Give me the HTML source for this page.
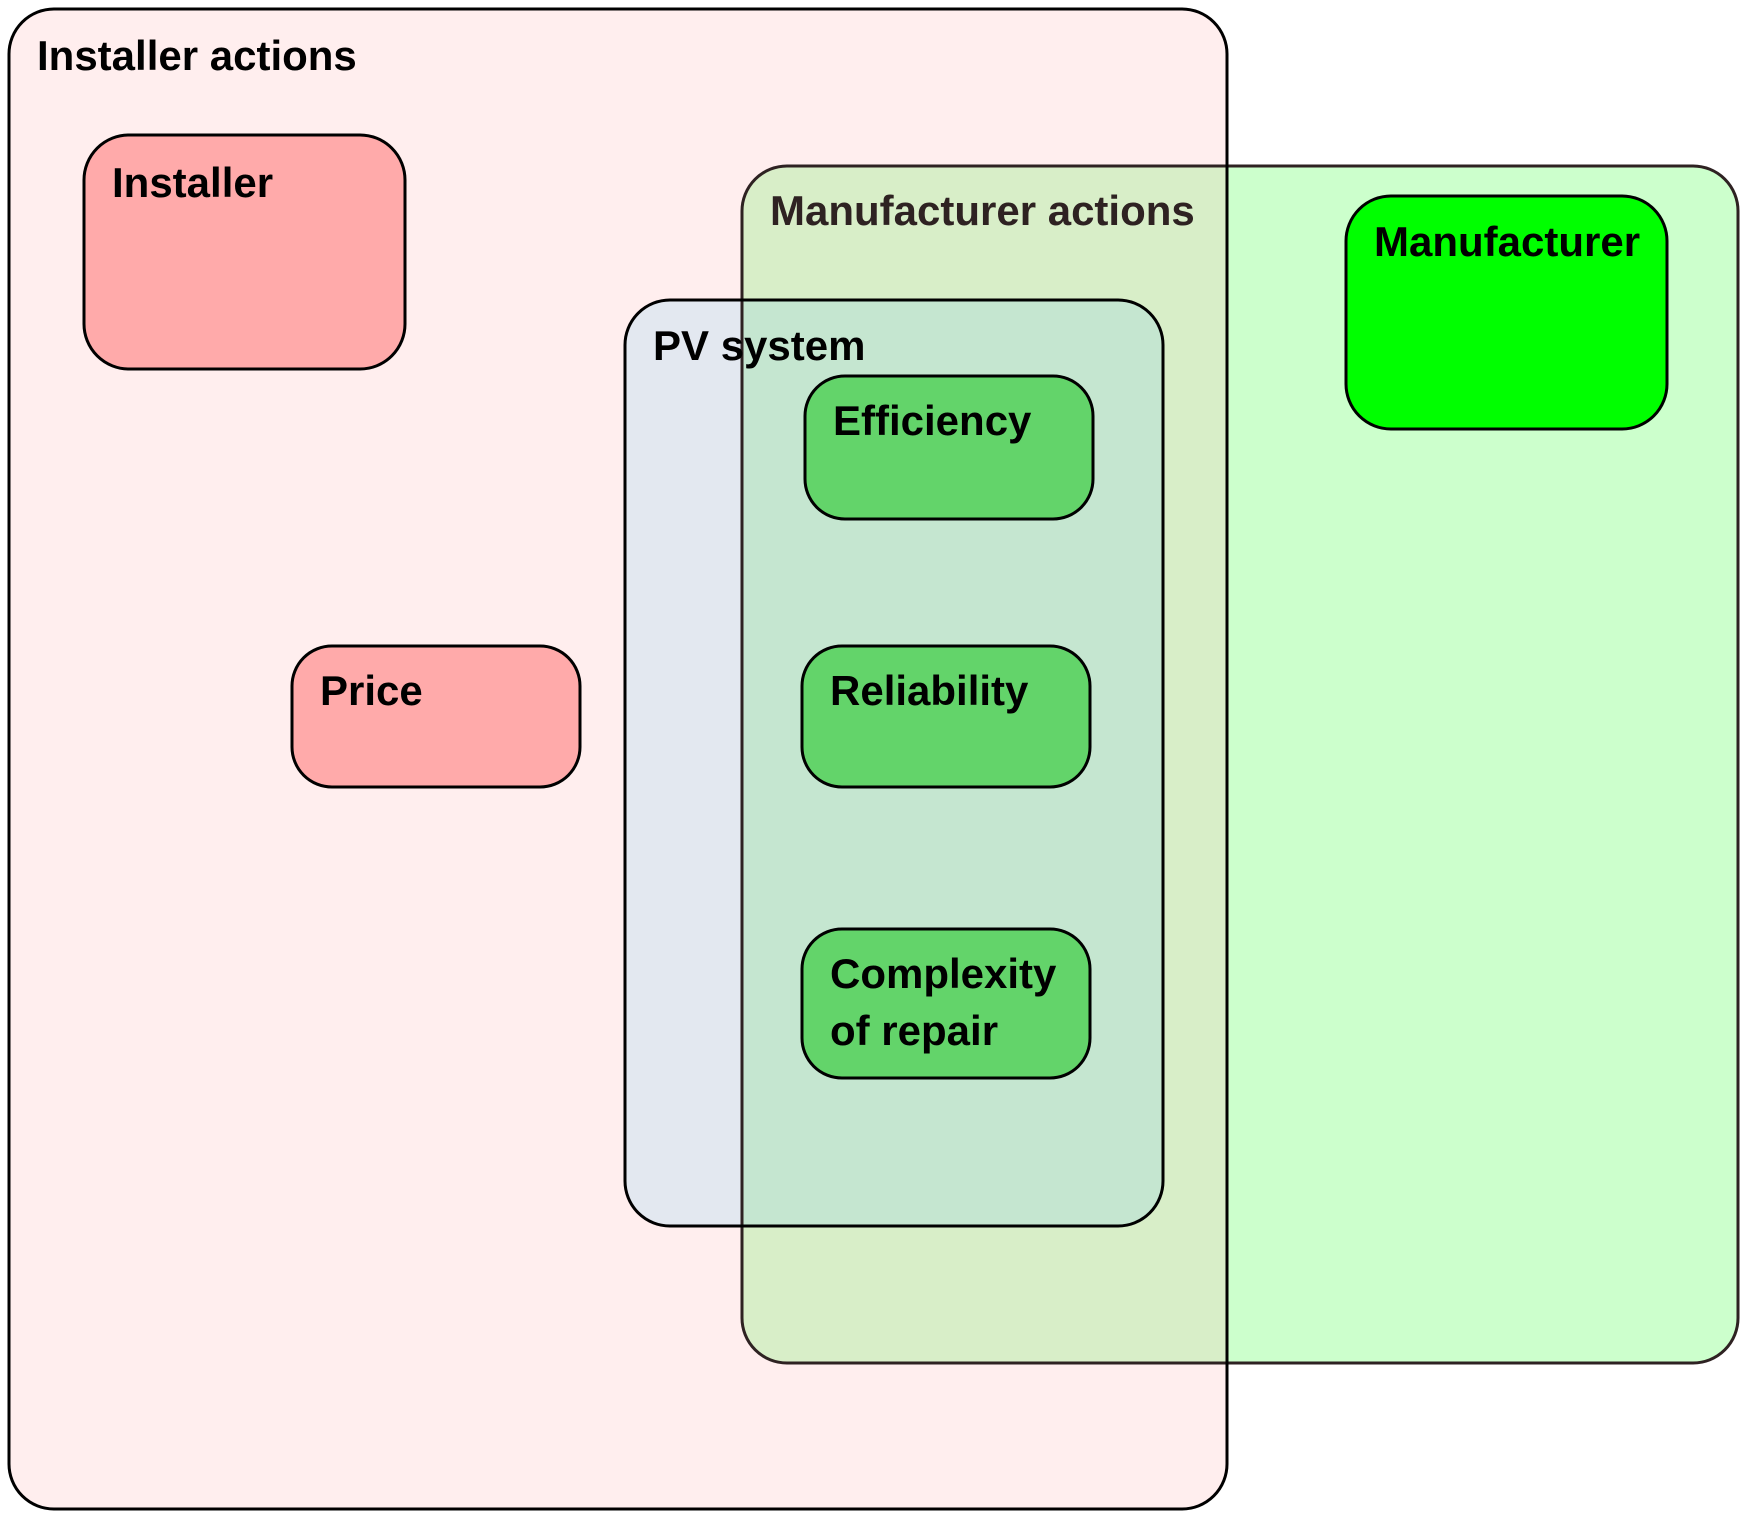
<!DOCTYPE html>
<html><head><meta charset="utf-8"><style>
html,body{margin:0;padding:0;background:#fff;}
svg{display:block;}
text{font-family:"Liberation Sans",Arial,sans-serif;font-weight:bold;font-size:42px;}
</style></head><body>
<svg width="1752" height="1521" viewBox="0 0 1752 1521" xmlns="http://www.w3.org/2000/svg">
<defs>
<clipPath id="pink"><rect x="9" y="9" width="1218" height="1500" rx="45"/></clipPath>
<clipPath id="pv"><rect x="625" y="300" width="538" height="926" rx="45"/></clipPath>
</defs>
<rect x="9" y="9" width="1218" height="1500" rx="45" fill="#ffeeee"/>
<rect x="625" y="300" width="538" height="926" rx="45" fill="#e3e8f0"/>
<rect x="742" y="166" width="996" height="1197" rx="45" fill="#ccffcc"/>
<g clip-path="url(#pink)"><rect x="742" y="166" width="996" height="1197" rx="45" fill="#d8eec8"/></g>
<g clip-path="url(#pv)"><rect x="742" y="166" width="996" height="1197" rx="45" fill="#c5e6d0"/></g>
<rect x="742" y="166" width="996" height="1197" rx="45" fill="none" stroke="#2e2222" stroke-width="3"/>
<text x="770" y="225" fill="#2e2222">Manufacturer actions</text>
<rect x="9" y="9" width="1218" height="1500" rx="45" fill="none" stroke="#000" stroke-width="3"/>
<rect x="625" y="300" width="538" height="926" rx="45" fill="none" stroke="#000" stroke-width="3"/>
<text x="37" y="70" fill="#000">Installer actions</text>
<text x="653" y="360" fill="#000">PV system</text>
<rect x="84" y="135" width="321" height="234" rx="45" fill="#ffaaaa" stroke="#000" stroke-width="3"/>
<text x="112" y="197">Installer</text>
<rect x="1346" y="196" width="321" height="233" rx="45" fill="#00ff00" stroke="#000" stroke-width="3"/>
<text x="1374" y="256">Manufacturer</text>
<rect x="805" y="376" width="288" height="143" rx="40" fill="#63d46a" stroke="#000" stroke-width="3"/>
<text x="833" y="435">Efficiency</text>
<rect x="802" y="646" width="288" height="141" rx="40" fill="#63d46a" stroke="#000" stroke-width="3"/>
<text x="830" y="705">Reliability</text>
<rect x="802" y="929" width="288" height="149" rx="40" fill="#63d46a" stroke="#000" stroke-width="3"/>
<text x="830" y="988">Complexity</text>
<text x="830" y="1045">of repair</text>
<rect x="292" y="646" width="288" height="141" rx="40" fill="#ffaaaa" stroke="#000" stroke-width="3"/>
<text x="320" y="705">Price</text>
</svg>
</body></html>
